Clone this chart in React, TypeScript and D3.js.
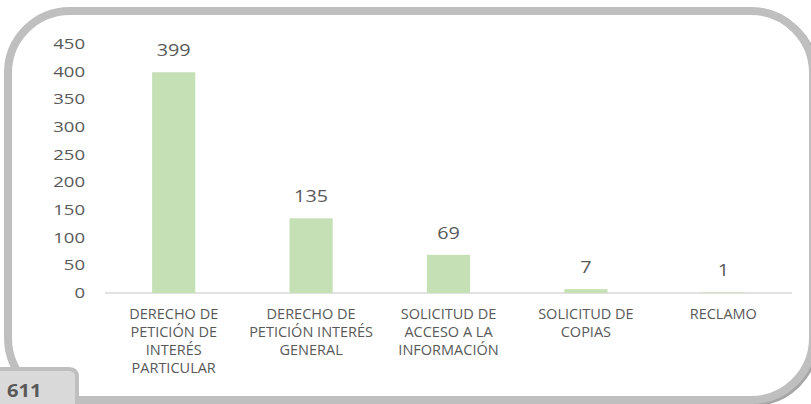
import React from "react";
import * as d3 from "d3";

const categories: string[][] = [
  ["DERECHO DE", "PETICIÓN DE", "INTERÉS", "PARTICULAR"],
  ["DERECHO DE", "PETICIÓN INTERÉS", "GENERAL"],
  ["SOLICITUD DE", "ACCESO A LA", "INFORMACIÓN"],
  ["SOLICITUD DE", "COPIAS"],
  ["RECLAMO"],
];
const values: number[] = [399, 135, 69, 7, 1];
const yTicks: number[] = [0, 50, 100, 150, 200, 250, 300, 350, 400, 450];
const totalLabel = "611";

const W = 811;
const H = 404;
const FONT = "'Open Sans', 'Noto Sans', sans-serif";
const TXT = "#595959";

export default function App() {
  const x = d3
    .scaleBand<number>()
    .domain(values.map((_, i) => i))
    .range([105, 792])
    .paddingInner(0.686)
    .paddingOuter(0.343);
  const y = d3.scaleLinear().domain([0, 450]).range([293, 44]);

  const frameX = 8, frameY = 11, frameW = 805, frameH = 389, r = 62;

  return (
    <svg
      width={W}
      height={H}
      style={{ position: "absolute", left: 0, top: 0, background: "#fff" }}
      fontFamily={FONT}
    >
      <rect
        x={frameX + 2}
        y={frameY + 2}
        width={frameW}
        height={frameH}
        rx={r}
        ry={r}
        fill="none"
        stroke="#a6a6a6"
        strokeWidth={8}
      />
      <rect
        x={frameX}
        y={frameY}
        width={frameW}
        height={frameH}
        rx={r}
        ry={r}
        fill="#fff"
        stroke="#bfbfbf"
        strokeWidth={8}
      />

      {yTicks.map((t) => (
        <text
          key={t}
          transform={`translate(85,${y(t)}) scale(1.28,1)`}
          dy="0.35em"
          textAnchor="end"
          fontSize={14.5}
          fill={TXT}
        >
          {t}
        </text>
      ))}

      <line x1={105} x2={792} y1={y(0)} y2={y(0)} stroke="#d9d9d9" strokeWidth={1.5} />

      {values.map((v, i) => (
        <rect
          key={i}
          x={x(i)}
          y={y(v)}
          width={x.bandwidth()}
          height={y(0) - y(v)}
          fill="#c5e0b4"
        />
      ))}

      {values.map((v, i) => (
        <text
          key={i}
          transform={`translate(${(x(i) as number) + x.bandwidth() / 2},${y(v) - 16}) scale(1.2,1)`}
          textAnchor="middle"
          fontSize={16.5}
          fill={TXT}
        >
          {v}
        </text>
      ))}

      {categories.map((lines, i) => {
        const cx = (x(i) as number) + x.bandwidth() / 2;
        return (
          <text key={i} y={319} textAnchor="middle" fontSize={14.5} fill={TXT}>
            {lines.map((l, j) => (
              <tspan key={j} x={cx} dy={j === 0 ? 0 : 18}>
                {l}
              </tspan>
            ))}
          </text>
        );
      })}

      <path
        d="M -4 408 L -4 369 L 69 369 Q 77 369 77 377 L 77 408 Z"
        fill="#d9d9d9"
        stroke="#bfbfbf"
        strokeWidth={4}
      />
      <text
        transform="translate(7,397) scale(1.12,1)"
        fontSize={18}
        fontWeight="bold"
        fill={TXT}
      >
        {totalLabel}
      </text>
    </svg>
  );
}
